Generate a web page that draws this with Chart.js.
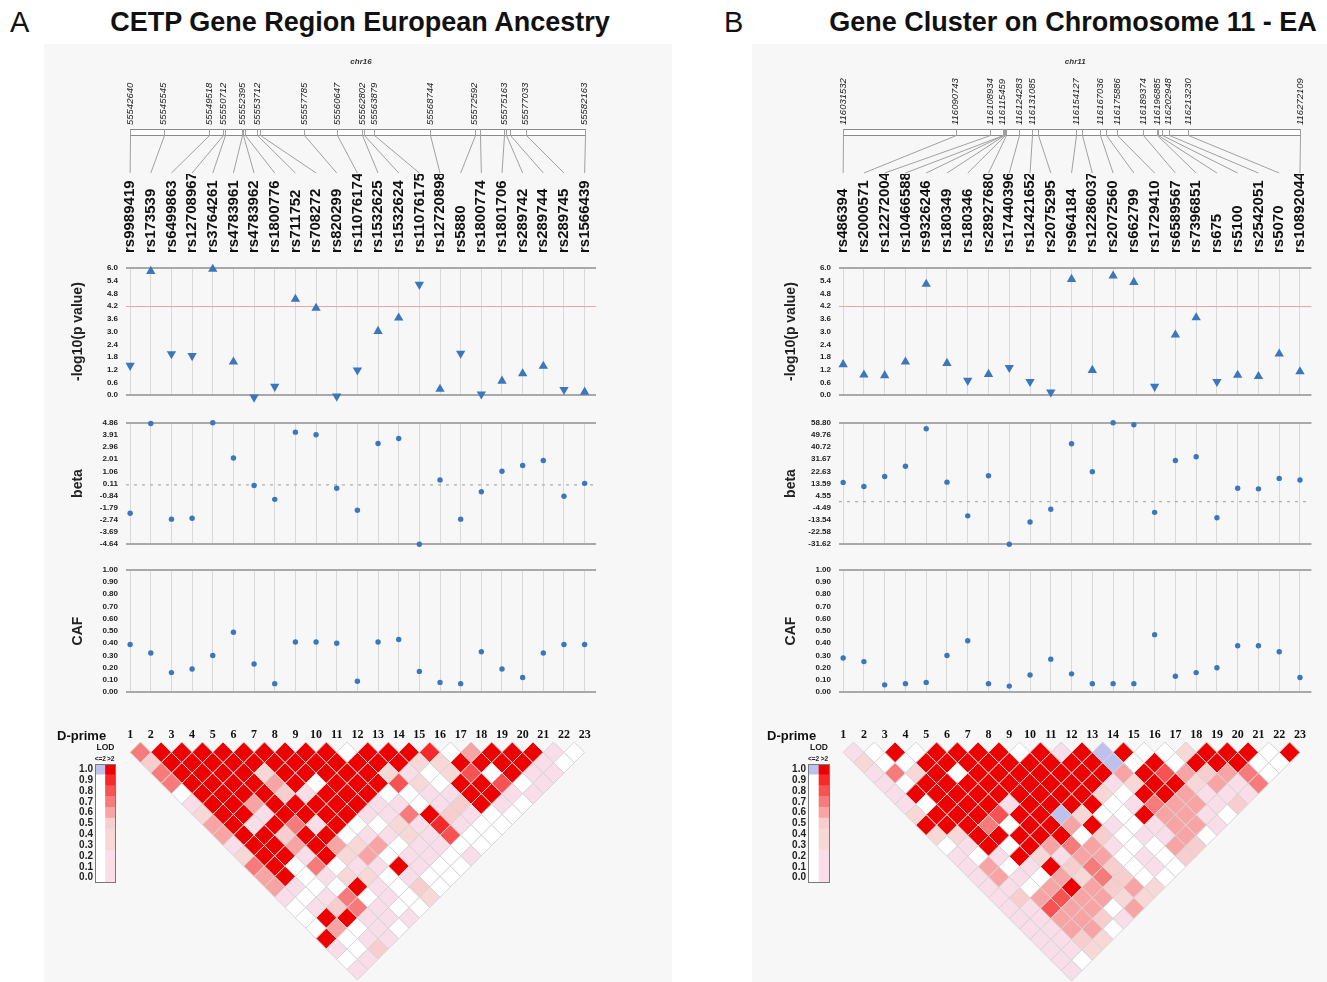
<!DOCTYPE html>
<html>
<head>
<meta charset="utf-8">
<script src="https://cdn.jsdelivr.net/npm/chart.js@4.4.1/dist/chart.umd.min.js"></script>
<style>
  body { margin:0; width:1327px; height:982px; background:#fff; position:relative; overflow:hidden;
         font-family:"Liberation Sans", Arial, sans-serif; color:#111; }
  .panel { position:absolute; top:44px; height:938px; background:#f7f7f7; }
  .letter { position:absolute; top:5px; font-size:29px; line-height:34px; }
  .title { position:absolute; top:6px; font-size:27px; line-height:32px; font-weight:bold; text-align:center; white-space:nowrap; }
</style>
</head>
<body>
<div class="letter" style="left:10px">A</div>
<div class="title" style="left:60px;width:600px">CETP Gene Region European Ancestry</div>
<div class="letter" style="left:724px">B</div>
<div class="title" style="left:773px;width:600px">Gene Cluster on Chromosome 11 - EA</div>
<div class="panel" id="pa" style="left:44px;width:628px"></div>
<div class="panel" id="pb" style="left:752px;width:575px"></div>
<script>
// ---------- panel A : CETP region ----------
var snpsA = ['rs9989419','rs173539','rs6499863','rs12708967','rs3764261','rs4783961','rs4783962','rs1800776',
  'rs711752','rs708272','rs820299','rs11076174','rs1532625','rs1532624','rs11076175','rs12720898','rs5880',
  'rs1800774','rs1801706','rs289742','rs289744','rs289745','rs1566439'];
var posA = [55542640,55545545,55549518,55550712,55550890,55552395,55552480,55552620,55553712,55553900,55557785,
  55560647,55562802,55562990,55563879,55568744,55572592,55573090,55575163,55575350,55575680,55577033,55582163];
var posLabelsA = [55542640,55545545,55549518,55550712,55552395,55553712,55557785,55560647,55562802,55563879,
  55568744,55572592,55575163,55577033,55582163];
var pA = [1.40,5.85,1.95,1.86,5.95,1.57,-0.10,0.41,4.53,4.11,-0.05,1.18,3.02,3.65,5.22,0.29,1.97,0.05,0.67,1.02,1.37,0.26,0.15];
var betaA = [-2.22,4.81,-2.68,-2.61,4.86,2.10,-0.05,-1.13,4.13,3.92,-0.26,-1.98,3.24,3.63,-4.64,0.39,-2.68,-0.53,1.07,1.52,1.91,-0.89,0.12];
var cafA = [0.39,0.32,0.16,0.19,0.30,0.49,0.23,0.07,0.41,0.41,0.40,0.09,0.41,0.43,0.17,0.08,0.07,0.33,0.19,0.12,0.32,0.39,0.39];
var betaTicksA = [-4.64,-3.69,-2.74,-1.79,-0.84,0.11,1.06,2.01,2.96,3.91,4.86];
// D' by distance (row 1 = neighbours). X = 1.0 with LOD>2, digit = D'*10 with LOD>2, '.' = LOD<=2, b = D'=1 LOD<=2
var ldA = ['7XXXXXXXXX.XXX9.6XXX2.','5XXXXXXXXXXXX43XXXX2.','7XXXX4XXXXX42.48.X22','7XXXX6X.XXX84.XX8.2',
  '.XXXX52XXX..22XX22','2XX6XXXXX22.25X2.','4XX2XXXX227X52..','6X2X72X..3292..','6XX5XX.22328..',
  '2XX6X636.22..','4XX2X46.22.2','7X.7.22X2..','6X.234.2..','62..X2.5.','2.27.2.4','.2572..','.XX222',
  '.6.2.','X.22','2.5','.2','2'];

// ---------- panel B : chromosome 11 cluster ----------
var snpsB = ['rs486394','rs2000571','rs12272004','rs10466588','rs9326246','rs180349','rs180346','rs28927680',
  'rs17440396','rs12421652','rs2075295','rs964184','rs12286037','rs2072560','rs662799','rs1729410','rs6589567',
  'rs7396851','rs675','rs5100','rs2542051','rs5070','rs10892044'];
var posB = [116031532,116090743,116108934,116115459,116115800,116116300,116116900,116117500,116124283,116131085,
  116134065,116154127,116157500,116167036,116169800,116175886,116189374,116196885,116197537,116199500,116202948,
  116213230,116272109];
var posLabelsB = [116031532,116090743,116108934,116115459,116124283,116131085,116154127,116167036,116175886,
  116189374,116196885,116202948,116213230,116272109];
var pB = [1.45,0.96,0.93,1.57,5.24,1.51,0.69,0.99,1.30,0.64,0.14,5.47,1.18,5.63,5.33,0.41,2.85,3.66,0.64,0.95,0.89,1.95,1.11];
var betaB = [14.4,11.4,18.8,26.4,54.4,14.6,-10.5,19.4,-31.62,-15.1,-5.6,43.2,22.4,58.8,57.4,-7.9,30.7,33.5,-11.9,10.0,9.6,17.4,16.2];
var cafB = [0.28,0.25,0.06,0.07,0.08,0.30,0.42,0.07,0.05,0.14,0.27,0.15,0.07,0.07,0.07,0.47,0.13,0.16,0.20,0.38,0.38,0.33,0.12];
var betaTicksB = [-31.62,-22.58,-13.54,-4.49,4.55,13.59,22.63,31.67,40.72,49.76,58.80];
var ldB = ['2.X.XXXX.X2XbX..4XXX.X','3..XXXXXXXXXb.X.XXX..','274X.XXXXXXX6X86567.','2.XXXXXXXXX24XX4627',
  '2XXXXXXXXX3.XX6222','2.XXX2XXXX.276625','4XXX8XXb4..X662.','XXX7.XX6X2.2662','43XXXXX.5.226.',
  '.2X.X6762..65','2.2X3266.2.5','26.2X575.2.','262.6475..','22.6X6564','25686643','22866.6','226652',
  '2266.','2253','223','2.','2'];

// shared axes
var pTicks = [0,0.6,1.2,1.8,2.4,3.0,3.6,4.2,4.8,5.4,6.0];
var pThreshold = 4.2;
var cafTicks = [0,0.1,0.2,0.3,0.4,0.5,0.6,0.7,0.8,0.9,1.0];
var legendCodes = ['0','1','2','3','4','5','6','7','8','9','X'];
var legendLabels = ['0.0','0.1','0.2','0.3','0.4','0.5','0.6','0.7','0.8','0.9','1.0'];

var XMIN = -0.2, XMAX = 22.55;
var BLUE = '#3b77ba';
var TICK_FONT = {family:'Liberation Sans', size:8, weight:'bold'};
var TITLE_FONT = {family:'Liberation Sans', size:14, weight:'bold'};

Chart.defaults.animation = false;
Chart.defaults.events = [];
Chart.defaults.plugins.legend.display = false;
Chart.defaults.plugins.tooltip.enabled = false;
Chart.defaults.color = '#222';
Chart.defaults.font.family = 'Liberation Sans';

function ldColor(c) {
  if (c === '.') return '#ffffff';
  if (c === 'b') return '#bec1ee';
  var v = c === 'X' ? 1 : Number(c) / 10;
  if (v < 0.3) return '#f9dde9';
  var g = Math.min(215, Math.round(410 * (1 - v)));
  return 'rgb(' + (v === 1 ? 238 : 248) + ',' + g + ',' + g + ')';
}

function addCanvas(panel, left, top, width, height) {
  var p = document.getElementById(panel);
  var c = document.createElement('canvas');
  c.width = width || p.clientWidth; c.height = height;
  c.style.cssText = 'position:absolute;left:' + left + 'px;top:' + top + 'px;';
  p.appendChild(c);
  return c;
}

function colScale(names, extra) {
  var s = {
    type:'linear', min:XMIN, max:XMAX,
    afterBuildTicks: function(sc) { sc.ticks = names.map(function(_, i) { return {value:i}; }); },
    border: {display:false}
  };
  return Object.assign(s, extra);
}

function valScale(ticksArr, title, dec, g, redAt) {
  var lo = ticksArr[0], hi = ticksArr[ticksArr.length - 1];
  return {
    type:'linear', min:lo, max:hi,
    afterBuildTicks: function(sc) { sc.ticks = ticksArr.map(function(v) { return {value:v}; }); },
    afterFit: function(sc) { sc.width = g.axisW; },
    border: {display:false},
    grid: {
      drawTicks:false,
      color: function(c) {
        if (c.tick.value === lo || c.tick.value === hi) return '#a9a9a9';
        return c.tick.value === redAt ? '#f2a3a3' : 'rgba(0,0,0,0)';
      },
      lineWidth: function(c) { return (c.tick.value === lo || c.tick.value === hi) ? 2 : 1; }
    },
    ticks: {font:TICK_FONT, padding:8, color:'#222', autoSkip:false, callback: function(v) { return v.toFixed(dec); }},
    title: {display:true, text:title, font:TITLE_FONT, color:'#222', padding:{top:0, bottom:0}}
  };
}

function chrMap(pos) {
  return {
    id:'chrMap',
    afterDraw: function(chart) {
      var ctx = chart.ctx, a = chart.chartArea, x = chart.scales.x, ps = chart.scales.pos;
      var x0 = ps.getPixelForValue(pos[0]), x1 = ps.getPixelForValue(pos[pos.length - 1]);
      var top = a.top + 0.5, bot = a.top + 6.5;
      ctx.save();
      ctx.fillStyle = '#ffffff';
      ctx.fillRect(x0, top, x1 - x0, bot - top);
      ctx.strokeStyle = '#8a8a8a'; ctx.lineWidth = 1;
      ctx.strokeRect(Math.round(x0) + 0.5, top, Math.round(x1 - x0), bot - top);
      ctx.beginPath();
      pos.forEach(function(p, i) {
        var px = Math.round(ps.getPixelForValue(p)) + 0.5;
        ctx.moveTo(px, top); ctx.lineTo(px, bot);
        ctx.moveTo(px, bot); ctx.lineTo(x.getPixelForValue(i), a.bottom);
      });
      ctx.strokeStyle = '#a0a0a0';
      ctx.stroke();
      ctx.restore();
    }
  };
}

function textLabel(text, dx) {
  return {
    id:'dprime',
    afterDraw: function(chart) {
      var ctx = chart.ctx;
      ctx.save();
      ctx.font = 'bold 13px "Liberation Sans"';
      ctx.fillStyle = '#111';
      ctx.textBaseline = 'middle';
      ctx.fillText(text, dx, chart.chartArea.top - 6);
      ctx.restore();
    }
  };
}

var frame = {
  id:'frame',
  afterDraw: function(chart) {
    var a = chart.chartArea, ctx = chart.ctx;
    ctx.save();
    ctx.strokeStyle = '#7a7a7a'; ctx.lineWidth = 1;
    ctx.strokeRect(Math.round(a.left) + 0.5, Math.round(a.top) + 0.5, Math.round(a.right - a.left) - 1, Math.round(a.bottom - a.top) - 1);
    ctx.restore();
  }
};

function buildPanel(id, g, d) {
  var W = document.getElementById(id).clientWidth;
  var left = g.padL + g.axisW;
  var colW = (W - g.padR - left) / (XMAX - XMIN);
  var k = (d.pos[d.pos.length - 1] - d.pos[0]) / (d.pos.length - 1);

  // chromosome map
  new Chart(addCanvas(id, 0, 6, W, 124), {
    type:'scatter',
    data:{datasets:[]},
    options:{
      responsive:false,
      layout:{padding:{left:left, right:g.padR, top:0, bottom:1}},
      scales:{
        x:{type:'linear', min:XMIN, max:XMAX, display:false},
        y:{type:'linear', min:0, max:1, display:false},
        pos:{type:'linear', axis:'x', position:'top',
          min:d.pos[0] + XMIN * k, max:d.pos[d.pos.length - 1] + (XMAX - (d.pos.length - 1)) * k,
          afterBuildTicks: function(sc) { sc.ticks = d.posLabels.map(function(v) { return {value:v}; }); },
          afterFit: function(sc) { sc.height = 79; },
          grid:{display:false, drawTicks:false}, border:{display:false},
          ticks:{autoSkip:false, minRotation:90, maxRotation:90, padding:4, labelOffset:11.4, color:'#222',
            font:{size:9.5, style:'italic'}, callback: function(v) { return String(v); }},
          title:{display:true, text:d.chr, color:'#333', font:{size:8, style:'italic', weight:'bold'}, padding:{top:7, bottom:4}}
        }
      }
    },
    plugins:[chrMap(d.pos)]
  });

  // -log10(p)
  new Chart(addCanvas(id, 0, 130, W, 234), {
    type:'scatter',
    data:{datasets:[{
      data:d.p.map(function(v, i) { return {x:i, y:v}; }),
      pointStyle:'triangle', pointRadius:5.4,
      pointRotation: function(c) { return d.beta[c.dataIndex] < 0 ? 180 : 0; },
      pointBackgroundColor:BLUE, pointBorderColor:BLUE, pointBorderWidth:0, clip:false
    }]},
    options:{
      responsive:false,
      layout:{padding:{left:g.padL, right:g.padR, top:0, bottom:8}},
      scales:{
        x:colScale(d.snps, {position:'top',
          afterFit: function(sc) { sc.height = 94; },
          grid:{color:'#d9d9d9', drawTicks:false},
          ticks:{autoSkip:false, minRotation:90, maxRotation:90, padding:15, labelOffset:18, color:'#111',
            font:{size:15, weight:'bold'}, callback: function(v) { return d.snps[v]; }}}),
        y:valScale(pTicks, '-log10(p value)', 1, g, pThreshold)
      }
    }
  });

  // beta
  new Chart(addCanvas(id, 0, 366, W, 147), {
    type:'scatter',
    data:{datasets:[{
      data:d.beta.map(function(v, i) { return {x:i, y:v}; }),
      pointRadius:2.7, pointBackgroundColor:BLUE, pointBorderWidth:0, clip:false
    }, {
      data:[{x:XMIN, y:0}, {x:XMAX, y:0}], showLine:true, borderColor:'#9c9c9c', borderWidth:1,
      borderDash:[3, 5], pointRadius:0
    }]},
    options:{
      responsive:false,
      layout:{padding:{left:g.padL, right:g.padR, top:8, bottom:8}},
      scales:{
        x:colScale(d.snps, {position:'bottom', afterFit: function(sc) { sc.height = 0; },
          grid:{color:'#d9d9d9', drawTicks:false}, ticks:{display:false}}),
        y:valScale(d.betaTicks, 'beta', 2, g, null)
      }
    }
  });

  // CAF
  new Chart(addCanvas(id, 0, 513, W, 148), {
    type:'scatter',
    data:{datasets:[{
      data:d.caf.map(function(v, i) { return {x:i, y:v}; }),
      pointRadius:2.7, pointBackgroundColor:BLUE, pointBorderWidth:0, clip:false
    }]},
    options:{
      responsive:false,
      layout:{padding:{left:g.padL, right:g.padR, top:8, bottom:8}},
      scales:{
        x:colScale(d.snps, {position:'bottom', afterFit: function(sc) { sc.height = 0; },
          grid:{color:'#d9d9d9', drawTicks:false}, ticks:{display:false}}),
        y:valScale(cafTicks, 'CAF', 2, g, null)
      }
    }
  });

  // LD triangle (D-prime)
  var cells = [], codes = [];
  d.ld.forEach(function(row, r) {
    row.split('').forEach(function(c, i) {
      cells.push({x:i + (r + 1) / 2, y:(r + 1) / 2});
      codes.push(c);
    });
  });
  var ldH = Math.round(27 + 11.5 * colW + 1);
  new Chart(addCanvas(id, 0, 671, W, ldH), {
    type:'scatter',
    data:{datasets:[{
      data:cells, pointStyle:'rectRot',
      pointRadius: function(c) { var s = c.chart.scales.x; return (s.getPixelForValue(1) - s.getPixelForValue(0)) / 2; },
      pointBackgroundColor: function(c) { return ldColor(codes[c.dataIndex]); },
      pointBorderColor:'#d4d4d4', pointBorderWidth:1, clip:false
    }]},
    options:{
      responsive:false,
      layout:{padding:{left:left, right:g.padR, top:0, bottom:1}},
      scales:{
        x:colScale(d.snps, {position:'top',
          afterFit: function(sc) { sc.height = 27; },
          grid:{display:false, drawTicks:false},
          ticks:{autoSkip:false, maxRotation:0, padding:0, color:'#111',
            font:{family:'Liberation Serif', size:12, weight:'bold'}, callback: function(v) { return String(v + 1); }}}),
        y:{type:'linear', min:0, max:11.5, reverse:true, display:false}
      }
    },
    plugins:[textLabel('D-prime', g.dpX)]
  });

  // LOD legend
  new Chart(addCanvas(id, g.legX, 699, g.legW, 148), {
    type:'bar',
    data:{labels:['<=2', '>2'], datasets:legendCodes.map(function(code, i) {
      return {data:[1, 1], backgroundColor:[ldColor(i === legendCodes.length - 1 ? 'b' : '.'), ldColor(code)],
        borderWidth:0, barPercentage:1, categoryPercentage:1};
    })},
    options:{
      responsive:false,
      layout:{padding:{left:0, right:2, top:0, bottom:6}},
      scales:{
        x:{stacked:true, position:'top', afterFit: function(sc) { sc.height = 21; },
          grid:{display:false, drawTicks:false}, border:{display:false},
          ticks:{autoSkip:false, maxRotation:0, padding:1, color:'#222', font:{size:6.5, weight:'bold'}},
          title:{display:true, text:'LOD', color:'#222', font:{size:8.5, weight:'bold'}, padding:0}},
        y:{stacked:true, min:0, max:11, afterFit: function(sc) { sc.width = 33; },
          afterBuildTicks: function(sc) { sc.ticks = legendLabels.map(function(_, i) { return {value:i + 0.5}; }); },
          grid:{display:false, drawTicks:false}, border:{display:false},
          ticks:{autoSkip:false, padding:2, color:'#222', font:{size:10, weight:'bold'}, callback: function(v, i) { return legendLabels[i]; }}}
      }
    },
    plugins:[frame]
  });
}

buildPanel('pa', {padL:26, axisW:56, padR:76, dpX:13, legX:18, legW:56},
  {snps:snpsA, pos:posA, posLabels:posLabelsA, chr:'chr16', p:pA, beta:betaA, caf:cafA, betaTicks:betaTicksA, ld:ldA});
buildPanel('pb', {padL:31, axisW:56, padR:15.6, dpX:15, legX:23, legW:57},
  {snps:snpsB, pos:posB, posLabels:posLabelsB, chr:'chr11', p:pB, beta:betaB, caf:cafB, betaTicks:betaTicksB, ld:ldB});
</script>
</body>
</html>
